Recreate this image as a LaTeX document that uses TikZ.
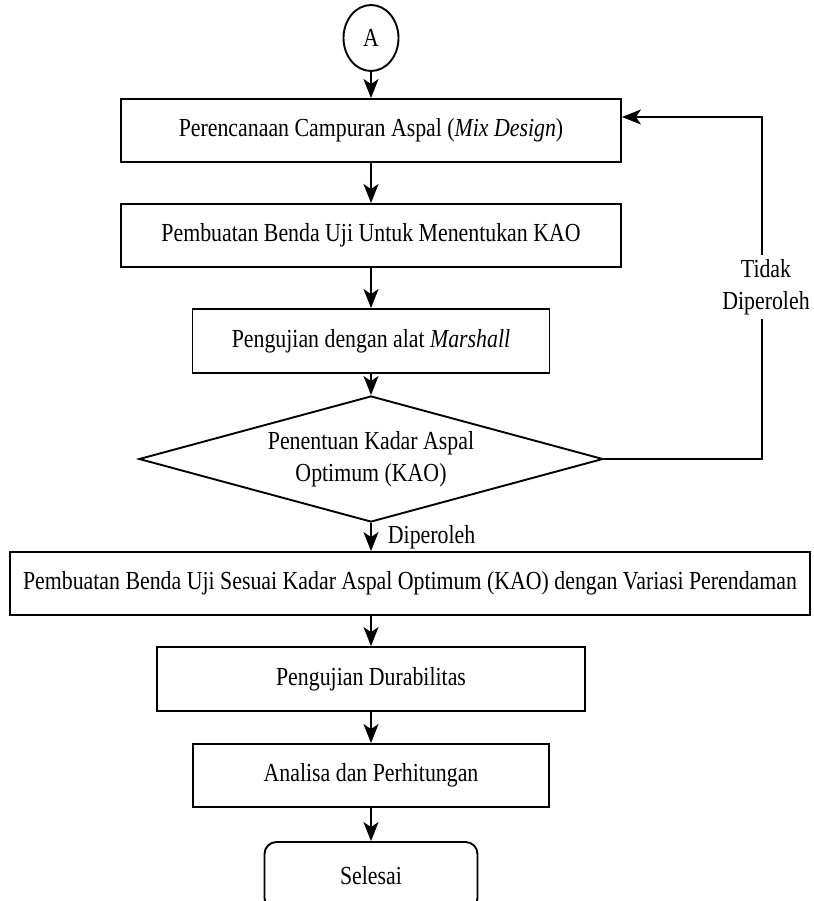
\documentclass[tikz,border=0pt]{standalone}
\usepackage{fontspec}
\setmainfont{Liberation Serif}[FakeStretch=0.84]
\usepackage{tikz}
\usetikzlibrary{
    arrows.meta,             % For modern arrow tips
    positioning,             % For relative placement of nodes
    shapes.geometric         % For the diamond and ellipse shapes
}

\begin{document}
\begin{tikzpicture}[
    x=1pt, y=-1pt, % One unit is one pixel of the page, y pointing down
    line width=1.9pt,
    font=\fontsize{26}{32}\selectfont,
    box_style/.style={draw, rectangle, inner sep=0pt, minimum height=63pt, align=center},
    decision_style/.style={draw, diamond, aspect=3.7, inner sep=0pt, minimum width=464pt, minimum height=126pt, align=center},
    terminal_style/.style={draw, rectangle, rounded corners=12pt, inner sep=0pt, minimum width=213pt, minimum height=68pt},
    arrow_style/.style={-{Stealth[length=19pt, width=15pt, inset=5pt]}},
    label_style/.style={inner sep=2pt, align=center}
]
    % Fix the page size
    \useasboundingbox (0,0) rectangle (813,901);

    % Connector from the previous page
    \node[draw, ellipse, inner sep=0pt, minimum width=55pt, minimum height=66pt] (A) at (371,38) {A};

    % Main steps
    \node[box_style, minimum width=500pt] (b1) at (371,130.5) {Perencanaan Campuran Aspal (\textit{Mix Design})};
    \node[box_style, minimum width=500pt] (b2) at (371,235.5) {Pembuatan Benda Uji Untuk Menentukan KAO};
    \node[box_style, minimum width=357pt, minimum height=64pt] (b3) at (371,341) {Pengujian dengan alat \textit{Marshall}};
    \node[decision_style] (d) at (371,459) {Penentuan Kadar Aspal\\Optimum (KAO)};
    \node[box_style, minimum width=800pt] (b4) at (410,583.5) {Pembuatan Benda Uji Sesuai Kadar Aspal Optimum (KAO) dengan Variasi Perendaman};
    \node[box_style, minimum width=428pt, minimum height=64pt] (b5) at (371,679) {Pengujian Durabilitas};
    \node[box_style, minimum width=356pt] (b6) at (371,775.5) {Analisa dan Perhitungan};
    \node[terminal_style] (b7) at (371,876) {Selesai};

    % Arrows down the chart
    \draw[arrow_style] (A) -- (b1);
    \draw[arrow_style] (b1) -- (b2);
    \draw[arrow_style] (b2) -- (b3);
    \draw[arrow_style] (b3) -- (d);
    \draw[arrow_style] (d.south) -- (d.south |- b4.north);
    \draw[arrow_style] (b5.north |- b4.south) -- (b5);
    \draw[arrow_style] (b5) -- (b6);
    \draw[arrow_style] (b6) -- (b7);
    \node[label_style, anchor=west] (yes) at (385,537) {Diperoleh};

    % Loop back when no optimum is found
    \coordinate (fb) at (762,117);
    \draw[arrow_style] (d.east) -| (fb) -- ([yshift=13.5pt]b1.east);
    \node[label_style, fill=white, inner sep=4pt] (no) at (766,287) {Tidak\\Diperoleh};

\end{tikzpicture}
\end{document}
